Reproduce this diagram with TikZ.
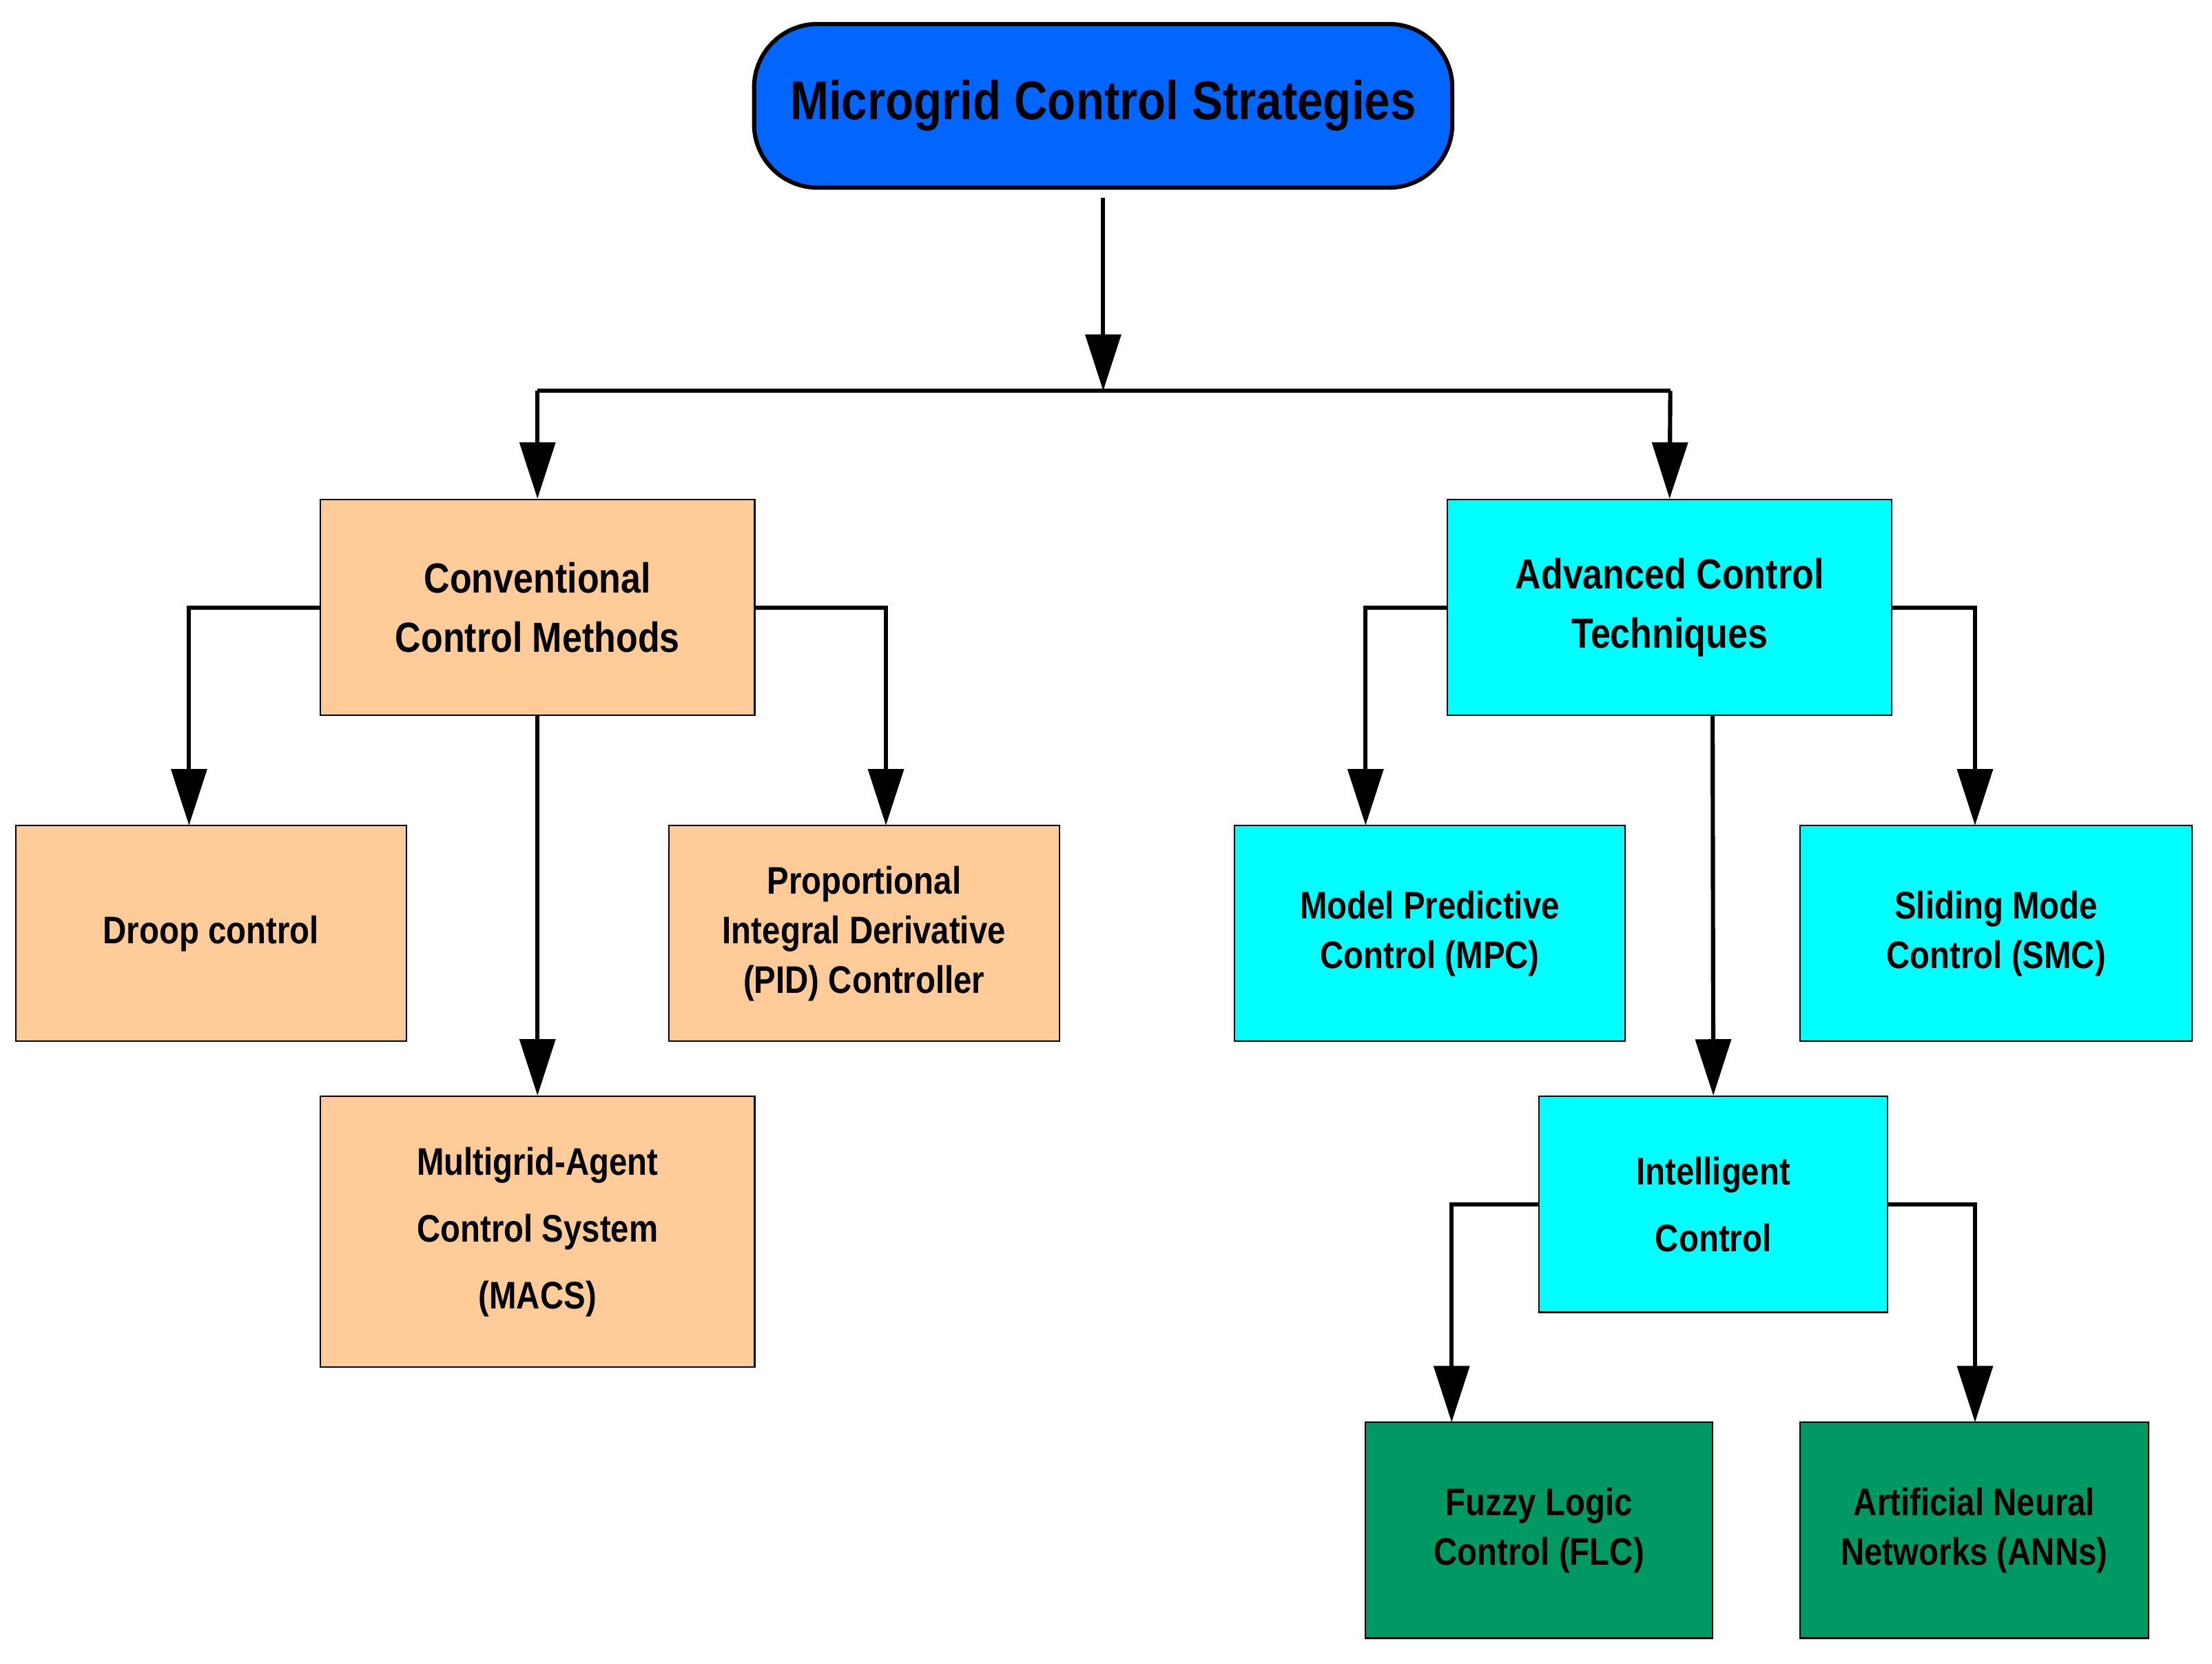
\documentclass[tikz,border=0pt]{standalone}
\usepackage{fontspec}
\setmainfont{Liberation Sans}[FakeStretch=0.85]
\usetikzlibrary{arrows.meta}
\definecolor{peach}{HTML}{FFCC99}
\definecolor{cyanb}{HTML}{00FFFF}
\definecolor{greenb}{HTML}{009966}
\definecolor{blueb}{HTML}{0066FF}
\begin{document}
\begin{tikzpicture}[x=0.02cm,y=-0.02cm,
  box/.style={draw=black,line width=0.6pt,align=center,font=\fontsize{17}{24}\selectfont\bfseries,inner sep=0pt},
  arr/.style={line width=0.06cm,-{Triangle[width=0.5cm,length=0.8cm]}},
  ln/.style={line width=0.06cm}]
\useasboundingbox (0,0) rectangle (1568,1179);
\newcommand{\bx}[6]{\node[box,fill=#6,minimum width=(#4-#2)*0.02cm,minimum height=(#5-#3)*0.02cm] (#1) at ({(#2+#4)/2},{(#3+#5)/2}) {#1x};}
\node[draw=black,line width=0.06cm,fill=blueb,rounded corners=0.9cm,minimum width=9.9cm,minimum height=2.32cm,font=\fontsize{22}{26}\selectfont\bfseries] (title) at (782,75) {Microgrid Control Strategies};
\node[box,fill=peach,minimum width=6.16cm,minimum height=3.06cm] (conv) at (381,430.5) {Conventional\\Control Methods};
\node[box,fill=cyanb,minimum width=6.3cm,minimum height=3.06cm] (adv) at (1183.5,430.5) {Advanced Control\\Techniques};
\node[box,fill=peach,minimum width=5.54cm,minimum height=3.06cm,font=\fontsize{15.5}{20}\selectfont\bfseries] (droop) at (149.5,661.5) {Droop control};
\node[box,fill=peach,minimum width=5.54cm,minimum height=3.06cm,font=\fontsize{15.5}{20}\selectfont\bfseries] (pid) at (612.5,661.5) {Proportional\\Integral Derivative\\(PID) Controller};
\node[box,fill=peach,minimum width=6.16cm,minimum height=3.84cm,font=\fontsize{15.5}{27}\selectfont\bfseries] (macs) at (381,873) {Multigrid-Agent\\Control System\\(MACS)};
\node[box,fill=cyanb,minimum width=5.54cm,minimum height=3.06cm,font=\fontsize{15.5}{20}\selectfont\bfseries] (mpc) at (1013.5,661.5) {Model Predictive\\Control (MPC)};
\node[box,fill=cyanb,minimum width=5.56cm,minimum height=3.06cm,font=\fontsize{15.5}{20}\selectfont\bfseries] (smc) at (1415,661.5) {Sliding Mode\\Control (SMC)};
\node[box,fill=cyanb,minimum width=4.94cm,minimum height=3.06cm,font=\fontsize{15.5}{27}\selectfont\bfseries] (intel) at (1214.5,853.5) {Intelligent\\Control};
\node[box,fill=greenb,minimum width=4.92cm,minimum height=3.06cm,font=\fontsize{15.5}{20}\selectfont\bfseries] (flc) at (1091,1084.5) {Fuzzy Logic\\Control (FLC)};
\node[box,fill=greenb,minimum width=4.94cm,minimum height=3.06cm,font=\fontsize{15.5}{20}\selectfont\bfseries] (ann) at (1399.5,1084.5) {Artificial Neural\\Networks (ANNs)};
\coordinate (j) at (782,277);
\draw[arr] (782,140) -- (j);
\draw[ln] (381,277) -- (1184,277);
\draw[arr] (381,277) -- (conv.north);
\draw[arr] (1184,277) -- (adv.north);
\draw[arr] (conv.west) -| (134,585);
\draw[arr] (conv.east) -| (628,585);
\draw[arr] (conv.south) -- (macs.north);
\draw[arr] (adv.west) -| (968,585);
\draw[arr] (adv.east) -| (1400,585);
\draw[arr] (1214,507) -- (intel.north);
\draw[arr] (intel.west) -| (1029,1008);
\draw[arr] (intel.east) -| (1400,1008);
\end{tikzpicture}
\end{document}
